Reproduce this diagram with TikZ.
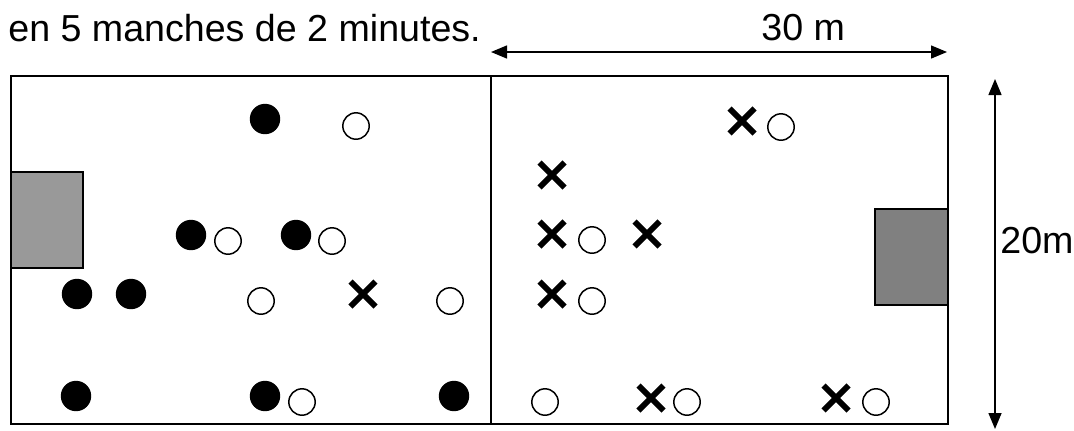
\documentclass[tikz,border=0pt]{standalone}
\usepackage{fontspec}
\setmainfont{Liberation Sans}
\usetikzlibrary{arrows.meta}
\tikzset{
  rond/.style={fill=black},
  cercle/.style={draw=black,line width=0.75pt},
  croix/.style={draw=black,line width=2.9pt},
  but/.style={draw=black,line width=1pt},
  fleche/.style={{Triangle[length=8pt,width=6.5pt]}-{Triangle[length=8pt,width=6.5pt]},line width=0.7pt},
  texte/.style={anchor=base west,inner sep=0pt}
}
\begin{document}
\begin{tikzpicture}[x=0.5pt,y=-0.5pt,font=\fontsize{18.8}{22}\selectfont]
\useasboundingbox (0,0) rectangle (1074,430);
% terrain
\coordinate (hg) at (11,76);
\coordinate (bd) at (948,424);
\coordinate (mh) at (491,76);
\coordinate (mb) at (491,424);
\draw[line width=1pt] (hg) rectangle (bd);
\draw[line width=0.8pt] (mh)--(mb);
% buts
\filldraw[but,fill=black!40] (11,172) rectangle (83,268);
\filldraw[but,fill=black!50] (875,209) rectangle (948,305);
% cotes
\coordinate (ag) at (491,52);
\coordinate (ad) at (947,52);
\coordinate (ah) at (995,79);
\coordinate (ab) at (995,429);
\draw[fleche] (ag)--(ad);
\draw[fleche] (ah)--(ab);
\node[texte] (titre) at (8,41) {en 5 manches de 2 minutes.};
\node[texte] (trente) at (761,40) {30 m};
\node[texte] (vingt) at (1000,253) {20m};
% joueurs
\foreach \x/\y in {265/119,191/235,296/235,77/294,131/294,76/396,265/396,454/396}
  \fill[rond] (\x,\y) circle (7.6pt);
\foreach \x/\y in {356/126,228/241,332/241,261/301,450/301,302/402,592/240,592/301,781/127,545/402,687/402,876/402}
  \draw[cercle] (\x,\y) circle (6.6pt);
\foreach \x/\y in {363/294,742/121,552/175,552/234,647/234,552/294,651/398,836/398}
  \draw[croix] (\x-12.5,\y-12.5)--(\x+12.5,\y+12.5) (\x-12.5,\y+12.5)--(\x+12.5,\y-12.5);
\end{tikzpicture}
\end{document}
